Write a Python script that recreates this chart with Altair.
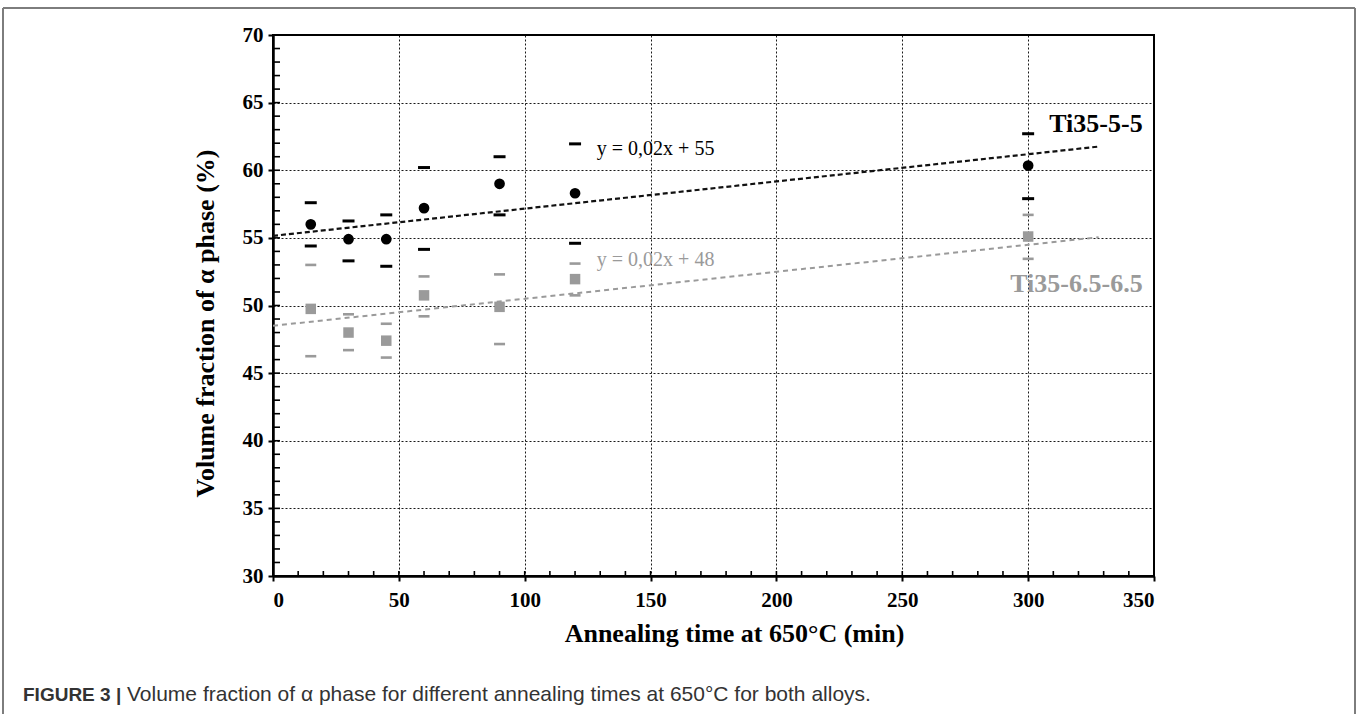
import altair as alt
import pandas as pd

# ---------------- data ----------------
times = [15, 30, 45, 60, 90, 120, 300]

ti555_mean = [56.0, 54.9, 54.9, 57.2, 59.0, 58.3, 60.35]
ti555_upper = [57.6, 56.25, 56.7, 60.2, 61.0, 61.95, 62.7]
ti555_lower = [54.4, 53.3, 52.9, 54.15, 56.7, 54.6, 57.9]

ti6565_mean = [49.75, 48.0, 47.4, 50.75, 49.9, 51.95, 55.1]
ti6565_upper = [53.0, 49.35, 48.65, 52.15, 52.3, 53.1, 56.7]
ti6565_lower = [46.25, 46.7, 46.15, 49.2, 47.15, 50.75, 53.45]

trend_x = [0, 328]
trend555_y = [55.15, 61.75]
trend6565_y = [48.5, 55.05]

series_names = ["Ti35-5-5", "Ti35-6.5-6.5"]
series_label_x = [345.5, 345.5]
series_label_y = [63.4, 51.6]

eq_texts = ["y = 0,02x + 55", "y = 0,02x + 48"]
eq_x = [152, 152]
eq_y = [61.6, 53.4]

x_ticks = [0, 50, 100, 150, 200, 250, 300, 350]
y_ticks = [30, 35, 40, 45, 50, 55, 60, 65, 70]
x_minor = list(range(10, 350, 10))
y_minor = list(range(31, 70))

caption_bold = "FIGURE 3 |"
caption_rest = "Volume fraction of \u03b1 phase for different annealing times at 650\u00b0C for both alloys."

# ---------------- styling ----------------
SERIF = "Liberation Serif"
SANS = "Liberation Sans"
BLACK = "#000000"
GRAY = "#9a9a9a"
W, H = 881, 541
LEFT, TOP = 273, 35

xs = alt.Scale(domain=[0, 350], nice=False, zero=False)
ys = alt.Scale(domain=[30, 70], nice=False, zero=False)

df_a = pd.DataFrame({"t": times, "m": ti555_mean, "u": ti555_upper, "l": ti555_lower})
df_b = pd.DataFrame({"t": times, "m": ti6565_mean, "u": ti6565_upper, "l": ti6565_lower})
df_ta = pd.DataFrame({"t": trend_x, "v": trend555_y})
df_tb = pd.DataFrame({"t": trend_x, "v": trend6565_y})
df_lab = pd.DataFrame({"name": series_names, "x": series_label_x, "y": series_label_y,
                       "c": ["a", "b"]})
df_eq = pd.DataFrame({"txt": eq_texts, "x": eq_x, "y": eq_y, "c": ["a", "b"]})
df_xmin = pd.DataFrame({"v": x_minor})
df_ymin = pd.DataFrame({"v": y_minor})
df_one = pd.DataFrame({"a": [0]})

X_TITLE = "Annealing time at 650\u00b0C (min)"
Y_TITLE = "Volume fraction of \u03b1 phase (%)"

x_axis = alt.Axis(
    values=x_ticks, title=X_TITLE,
    labelFont=SERIF, labelFontSize=21, labelFontWeight="bold", labelColor=BLACK,
    labelPadding=8, tickSize=5, tickWidth=2, tickColor=BLACK,
    domainColor=BLACK, domainWidth=2.5,
    grid=True, gridColor=BLACK, gridDash=[2, 2], gridWidth=1, gridOpacity=0.9,
    titleFont=SERIF, titleFontSize=26, titleFontWeight="bold", titleColor=BLACK,
    titleX=461, titleY=57, titleBaseline="middle", titleAlign="center",
)
y_axis = alt.Axis(
    values=y_ticks, title=Y_TITLE,
    labelFont=SERIF, labelFontSize=21, labelFontWeight="bold", labelColor=BLACK,
    labelPadding=5, tickSize=5, tickWidth=2, tickColor=BLACK,
    domainColor=BLACK, domainWidth=2.5,
    grid=True, gridColor=BLACK, gridDash=[2, 2], gridWidth=1, gridOpacity=0.9,
    titleFont=SERIF, titleFontSize=26, titleFontWeight="bold", titleColor=BLACK,
    titleX=-68, titleY=288, titleBaseline="middle", titleAlign="center", titleAngle=270,
)


def X(field):
    return alt.X(f"{field}:Q", scale=xs, axis=x_axis, title=X_TITLE)


def Y(field):
    return alt.Y(f"{field}:Q", scale=ys, axis=y_axis, title=Y_TITLE)


circles = alt.Chart(df_a).mark_point(filled=True, shape="circle", size=115,
                                     color=BLACK, opacity=1).encode(x=X("t"), y=Y("m"))
squares = alt.Chart(df_b).mark_square(size=110, color=GRAY, opacity=1).encode(
    x=X("t"), y=Y("m"))


def caps(df, col, color, size, thick):
    return alt.Chart(df).mark_tick(orient="horizontal", size=size, thickness=thick,
                                   color=color, opacity=1).encode(x=X("t"), y=Y(col))


caps_a_u = caps(df_a, "u", BLACK, 12, 3)
caps_a_l = caps(df_a, "l", BLACK, 12, 3)
caps_b_u = caps(df_b, "u", GRAY, 11, 2.6)
caps_b_l = caps(df_b, "l", GRAY, 11, 2.6)

trend_a = alt.Chart(df_ta).mark_line(color="#111111", strokeWidth=2.2,
                                     strokeDash=[5, 3]).encode(x=X("t"), y=Y("v"))
trend_b = alt.Chart(df_tb).mark_line(color=GRAY, strokeWidth=2,
                                     strokeDash=[5, 4]).encode(x=X("t"), y=Y("v"))

color_scale = alt.Scale(domain=["a", "b"], range=[BLACK, GRAY])

labels = alt.Chart(df_lab).mark_text(font=SERIF, fontSize=26, fontWeight="bold",
                                     align="right", baseline="middle").encode(
    x=X("x"), y=Y("y"), text="name:N",
    color=alt.Color("c:N", scale=color_scale, legend=None))

eqs = alt.Chart(df_eq).mark_text(font=SERIF, fontSize=20, align="center",
                                 baseline="middle").encode(
    x=X("x"), y=Y("y"), text="txt:N",
    color=alt.Color("c:N", scale=color_scale, legend=None))

ymin_ticks = alt.Chart(df_ymin).mark_rule(color=BLACK, strokeWidth=1.6).encode(
    y=Y("v"), x=alt.value(0), x2=alt.value(7))
xmin_ticks = alt.Chart(df_xmin).mark_rule(color=BLACK, strokeWidth=1.6).encode(
    x=X("v"), y=alt.value(H), y2=alt.value(H - 5))

FRAME = "#7d7d7d"
frame_top = alt.Chart(df_one).mark_rule(color=FRAME, strokeWidth=2).encode(
    x=alt.value(3 - LEFT), x2=alt.value(1355 - LEFT), y=alt.value(8 - TOP))
frame_left = alt.Chart(df_one).mark_rule(color=FRAME, strokeWidth=2).encode(
    x=alt.value(3 - LEFT), y=alt.value(8 - TOP), y2=alt.value(714 - TOP))
frame_right = alt.Chart(df_one).mark_rule(color=FRAME, strokeWidth=2).encode(
    x=alt.value(1355 - LEFT), y=alt.value(8 - TOP), y2=alt.value(714 - TOP))

cap1 = alt.Chart(df_one).mark_text(text=caption_bold, font=SANS, fontSize=19,
                                   fontWeight="bold", align="left", baseline="middle",
                                   color="#333333").encode(
    x=alt.value(23 - LEFT), y=alt.value(695 - TOP))
cap2 = alt.Chart(df_one).mark_text(text=caption_rest, font=SANS, fontSize=21,
                                   align="left", baseline="middle",
                                   color="#333333").encode(
    x=alt.value(127 - LEFT), y=alt.value(695 - TOP))

chart = alt.layer(
    circles, squares, ymin_ticks, xmin_ticks,
    trend_a, trend_b, caps_a_u, caps_a_l, caps_b_u, caps_b_l,
    labels, eqs, frame_top, frame_left, frame_right, cap1, cap2,
).properties(
    width=W, height=H,
    autosize=alt.AutoSizeParams(type="none"),
    padding={"left": LEFT, "top": TOP, "right": 1357 - LEFT - W, "bottom": 714 - TOP - H},
    background="white",
).configure_view(stroke=BLACK, strokeWidth=2)

chart.save("out.html", embed_options={"renderer": "svg", "actions": False})
